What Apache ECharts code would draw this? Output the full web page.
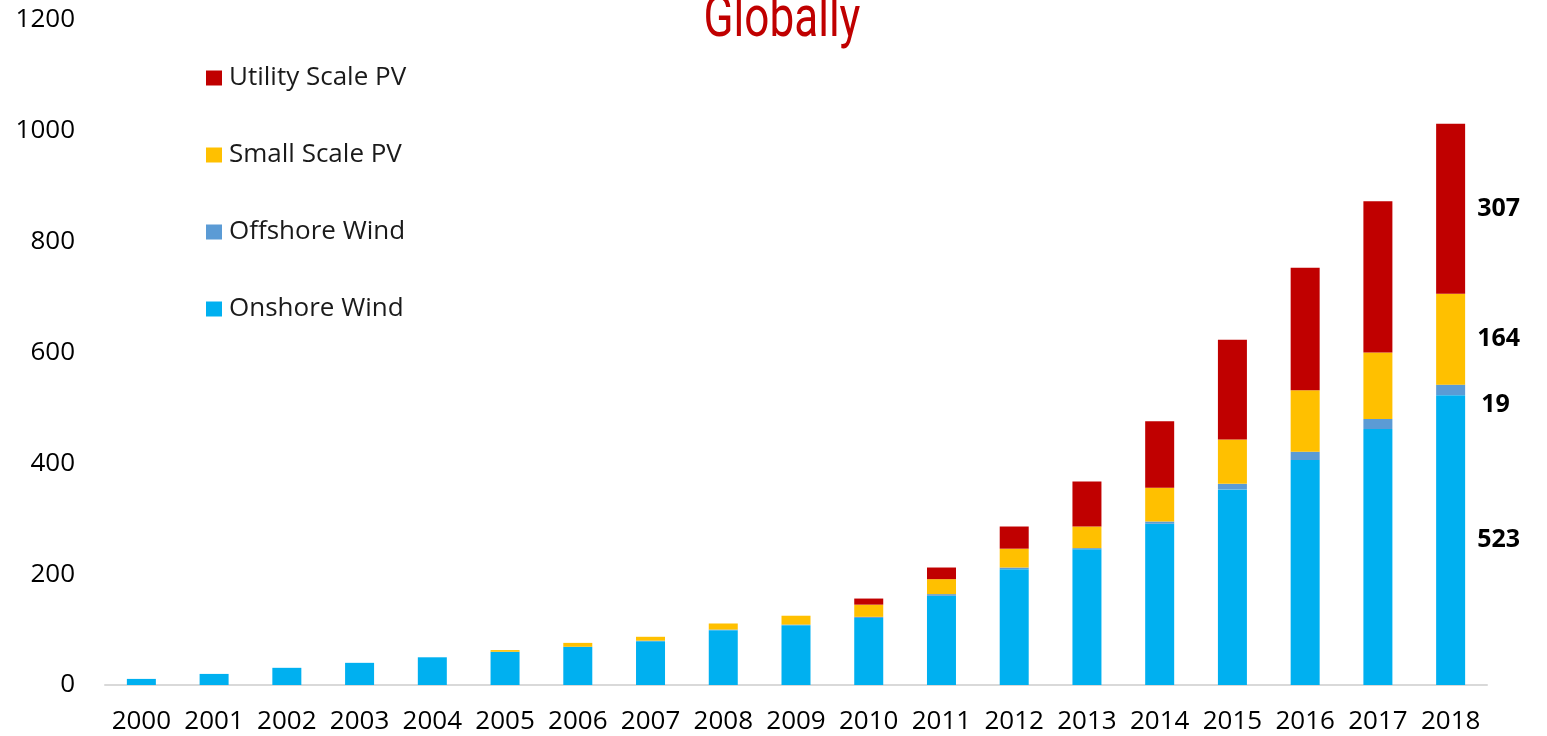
<!DOCTYPE html>
<html>
<head>
<meta charset="utf-8">
<script src="https://cdn.jsdelivr.net/npm/echarts@6/dist/echarts.min.js"></script>
<style>
  html, body { margin: 0; padding: 0; background: #fff; }
  #chart { width: 1547px; height: 736px; }
</style>
</head>
<body>
<div id="chart"></div>
<script>
// installed capacity, GW
const years = ["2000","2001","2002","2003","2004","2005","2006","2007","2008","2009",
               "2010","2011","2012","2013","2014","2015","2016","2017","2018"];
const onshoreWind  = [11, 20, 31, 40, 50, 60, 69, 79, 99, 108, 121, 161, 209, 245, 291, 353, 406, 462, 523];
const offshoreWind = [0, 0, 0, 0, 0, 0, 0, 1, 1, 1, 2, 3, 3, 2, 4, 10, 15, 18, 19];
const smallPV      = [0, 0, 0, 0, 0, 3, 7, 7, 11, 16, 22, 27, 34, 39, 61, 80, 111, 120, 164];
const utilityPV    = [0, 0, 0, 0, 0, 0, 0, 0, 0, 0, 11, 21, 40, 81, 120, 180, 221, 273, 307];

const chart = echarts.init(document.getElementById("chart"));
const font = "'Open Sans', sans-serif";

// only the last year gets a value label to the right of its bar
function withLastLabel(arr, offset) {
  return arr.map(function (v, i) {
    if (i !== arr.length - 1) return v;
    return {
      value: v,
      label: {
        show: true, position: "right", distance: 12, offset: offset || [0, 0],
        color: "#000", fontSize: 25, fontWeight: "bold", fontFamily: font
      }
    };
  });
}

function bar(name, data, color, offset) {
  return {
    name: name, type: "bar", stack: "total", barWidth: 29,
    itemStyle: { color: color },
    data: withLastLabel(data, offset),
    emphasis: { disabled: true }
  };
}

chart.setOption({
  animation: false,
  graphic: [{
    type: "text", x: 782, y: 50, scaleX: 0.76,
    style: {
      text: "Globally", fill: "#c00000", fontSize: 58, fontFamily: "Roboto",
      align: "center", verticalAlign: "bottom"
    }
  }],
  legend: {
    orient: "vertical", left: 201, top: 60,
    itemWidth: 16, itemHeight: 15, itemGap: 51,
    icon: "rect",
    textStyle: { fontSize: 26, color: "#1a1a1a", fontFamily: font, padding: [0, 0, 0, 2] },
    data: ["Utility Scale PV", "Small Scale PV", "Offshore Wind", "Onshore Wind"]
  },
  grid: { left: 105, right: 60, top: 20, bottom: 51, containLabel: false },
  xAxis: {
    type: "category", data: years,
    axisLine: { lineStyle: { color: "#d9d9d9", width: 2 } },
    axisTick: { show: false },
    axisLabel: { fontSize: 26, color: "#000", fontFamily: font, margin: 24, interval: 0 }
  },
  yAxis: {
    type: "value", min: 0, max: 1200, interval: 200,
    splitLine: { show: false },
    axisLine: { show: false },
    axisTick: { show: false },
    axisLabel: { fontSize: 26, color: "#000", fontFamily: font, margin: 30,
                 formatter: function (v) { return String(v); } }
  },
  series: [
    bar("Onshore Wind", onshoreWind, "#00b0f0"),
    bar("Offshore Wind", offshoreWind, "#5b9bd5", [4, 15]),
    bar("Small Scale PV", smallPV, "#ffc000"),
    bar("Utility Scale PV", utilityPV, "#c00000")
  ]
});
</script>
</body>
</html>
